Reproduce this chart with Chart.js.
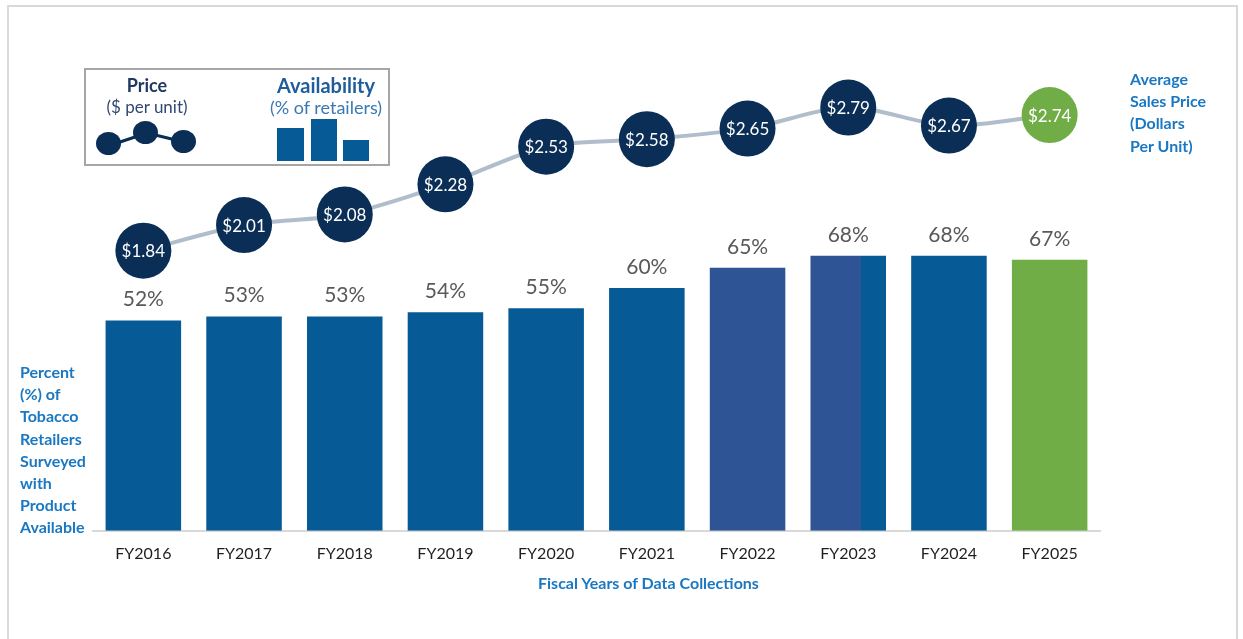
<!DOCTYPE html>
<html>
<head>
<meta charset="utf-8">
<script src="https://cdn.jsdelivr.net/npm/chart.js@4.4.0/dist/chart.umd.min.js"></script>
<style>
  body { margin: 0; background: #fff; font-family: Lato, 'Open Sans', sans-serif; }
  #wrap { position: relative; width: 1243px; height: 639px; overflow: hidden; }
  #frame { position: absolute; left: 7px; top: 5px; width: 1231px; height: 660px; border: 2px solid #d9d9d9; box-sizing: border-box; }
  #box { position: absolute; left: 0; top: 0; width: 1243px; height: 639px; }
  .side { position: absolute; color: #1a78c2; font-weight: bold; font-size: 16px; line-height: 22.2px; }
  #legend { position: absolute; left: 84px; top: 68px; width: 306px; height: 98px; border: 2px solid #a6a6a6; box-sizing: border-box; }
  .lg { position: absolute; text-align: center; white-space: nowrap; }
  .dot { position: absolute; width: 25px; height: 23px; border-radius: 50%; background: #0a2e55; }
  .lbar { position: absolute; background: #065a96; }
</style>
</head>
<body>
<div id="wrap">
  <div id="frame"></div>
  <div id="box"><canvas id="chart"></canvas></div>

  <div id="legend">
    <div class="lg" style="left:10px;top:4px;width:102px;font-weight:bold;font-size:18px;color:#1f3864;">Price</div>
    <div class="lg" style="left:0px;top:26px;width:122px;font-size:17px;color:#2e4a72;">($ per unit)</div>
    <svg style="position:absolute;left:0;top:0" width="120" height="96">
      <line x1="28" y1="74" x2="61" y2="63" stroke="#0a2e55" stroke-width="3"/>
      <line x1="61" y1="63" x2="98" y2="72" stroke="#0a2e55" stroke-width="3"/>
    </svg>
    <div class="dot" style="left:10px;top:62px;"></div>
    <div class="dot" style="left:47px;top:51px;"></div>
    <div class="dot" style="left:85px;top:60px;"></div>
    <div class="lg" style="left:170px;top:3px;width:140px;font-weight:bold;font-size:20px;color:#1f5c9c;">Availability</div>
    <div class="lg" style="left:170px;top:26px;width:140px;font-size:18px;color:#3a78b5;">(% of retailers)</div>
    <div class="lbar" style="left:191px;top:58px;width:27px;height:33px;"></div>
    <div class="lbar" style="left:225px;top:49px;width:26px;height:42px;"></div>
    <div class="lbar" style="left:257px;top:70px;width:26px;height:21px;"></div>
  </div>

  <div class="side" style="left:20px;top:361px;">Percent<br>(%) of<br>Tobacco<br>Retailers<br>Surveyed<br>with<br>Product<br>Available</div>
  <div class="side" style="left:1130px;top:68px;">Average<br>Sales Price<br>(Dollars<br>Per Unit)</div>
  <div class="side" style="left:538px;top:572px;">Fiscal Years of Data Collections</div>
</div>

<script>
// Dados
const anos = ['FY2016', 'FY2017', 'FY2018', 'FY2019', 'FY2020', 'FY2021', 'FY2022', 'FY2023', 'FY2024', 'FY2025'];
const disponibilidade = [52, 53, 53, 54, 55, 60, 65, 68, 68, 67];
const precos = [1.84, 2.01, 2.08, 2.28, 2.53, 2.58, 2.65, 2.79, 2.67, 2.74];

// Cores
const azul = '#065a96';
const azulRoxo = '#2f5496';
const verde = '#70ad47';
const marinho = '#0a2e55';

const corBarra = ctx => {
  const i = ctx.dataIndex;
  if (i === 9) return verde;
  if (i === 6) return azulRoxo;
  if (i === 7) {
    // FY2023: dois tons na mesma barra
    const chart = ctx.chart;
    const x = chart.scales.x;
    if (!chart.chartArea || !x) return azulRoxo;
    const cx = x.getPixelForValue(i);
    const w = (x.width / anos.length) * 0.75;
    const g = chart.ctx.createLinearGradient(cx - w / 2, 0, cx + w / 2, 0);
    g.addColorStop(0, azulRoxo);
    g.addColorStop(0.67, azulRoxo);
    g.addColorStop(0.67, azul);
    g.addColorStop(1, azul);
    return g;
  }
  return azul;
};

// Rótulos das barras e dos pontos
const rotulos = {
  id: 'rotulos',
  afterDatasetsDraw(chart) {
    const ctx = chart.ctx;
    ctx.save();
    ctx.textAlign = 'center';
    ctx.textBaseline = 'middle';

    const barras = chart.getDatasetMeta(0).data;
    ctx.font = '21px Lato';
    ctx.fillStyle = '#595959';
    barras.forEach((b, i) => ctx.fillText(disponibilidade[i] + '%', b.x, b.y - 21));

    const pontos = chart.getDatasetMeta(1).data;
    ctx.font = '17px Lato';
    ctx.fillStyle = '#ffffff';
    pontos.forEach((p, i) => ctx.fillText('$' + precos[i].toFixed(2), p.x, p.y + 1));
    ctx.restore();
  }
};

new Chart(document.getElementById('chart').getContext('2d'), {
  data: {
    labels: anos,
    datasets: [{
      type: 'bar',
      data: disponibilidade,
      backgroundColor: corBarra,
      barPercentage: 0.75,
      categoryPercentage: 1,
      yAxisID: 'y',
      order: 1
    }, {
      type: 'line',
      data: precos,
      borderColor: '#b0bdcb',
      borderWidth: 4,
      tension: 0.3,
      clip: false,
      pointRadius: 28,
      pointHoverRadius: 28,
      pointBorderWidth: 0,
      pointBackgroundColor: precos.map((_, i) => i === 9 ? verde : marinho),
      yAxisID: 'y2',
      order: 0
    }]
  },
  options: {
    responsive: true,
    maintainAspectRatio: false,
    animation: false,
    layout: { padding: { left: 93, right: 143, top: 100, bottom: 63 } },
    plugins: { legend: { display: false }, tooltip: { enabled: false } },
    scales: {
      x: {
        grid: { display: false, drawTicks: false },
        border: { display: true, color: '#d9d9d9', width: 2 },
        ticks: { color: '#1f1f1f', font: { family: 'Lato', size: 16 }, padding: 13 }
      },
      y: { display: false, min: 0, max: 106.5 },
      y2: { display: false, min: -0.02, max: 2.84 }
    }
  },
  plugins: [rotulos]
});
</script>
</body>
</html>
